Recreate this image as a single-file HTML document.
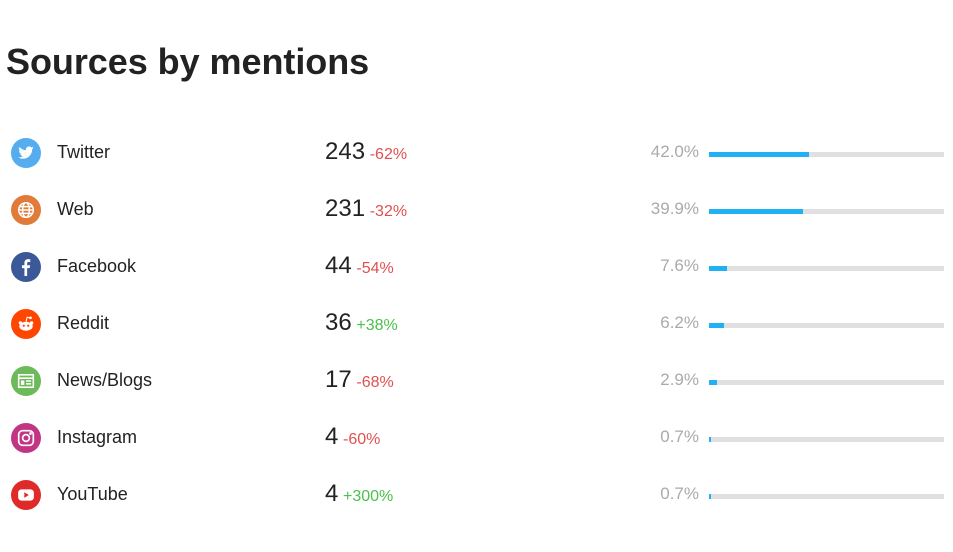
<!DOCTYPE html>
<html><head><meta charset="utf-8"><style>
body{margin:0;width:953px;height:552px;background:#fff;font-family:"Liberation Sans",sans-serif;position:relative;overflow:hidden}
h1{position:absolute;left:6px;top:40px;margin:0;font-size:36px;font-weight:bold;color:#222;line-height:44px;letter-spacing:-0.05px}
.row{position:absolute;left:0;width:953px;height:34px}
.ic{position:absolute;left:11px;top:2px;width:30px;height:30px;border-radius:50%}
.ic svg{position:absolute;left:6px;top:6px;width:18px;height:18px}
.nm{position:absolute;left:57px;top:6px;font-size:18px;color:#222}
.ct{position:absolute;left:325px;top:2px;font-size:24px;color:#222;white-space:nowrap}
.ct span{font-size:16px;margin-left:-2px}
.neg{color:#e05050}.pos{color:#4cc04c}
.pc{position:absolute;right:254px;top:6px;font-size:17px;color:#aaa}
.bar{position:absolute;left:709px;top:16px;width:235px;height:5px;background:#e0e0e0}
.bar i{display:block;height:5px;background:#22b0f5}
</style></head><body>
<h1>Sources by mentions</h1>

<div class="row" style="top:136px"><div class="ic" style="background:#55acee"><svg viewBox="0 0 16 16"><path d="M15 3.5c-.5.2-1 .4-1.6.4.6-.3 1-.9 1.2-1.5-.5.3-1.1.5-1.8.7a2.8 2.8 0 0 0-4.8 2.5C5.700 5.500 3.600 4.400 2.200 2.700c-.8 1.300-.3 3 .9 3.700-.4 0-.9-.1-1.300-.3 0 1.400 1 2.500 2.300 2.800-.4.100-.9.100-1.300 0 .4 1.100 1.400 1.900 2.600 1.900A5.600 5.600 0 0 1 1 11.900c1.300.8 2.700 1.200 4.300 1.200 5.300 0 8.200-4.400 8.200-8.200v-.4c.6-.4 1.100-.9 1.500-1z" fill="#fff"/></svg></div><div class="nm">Twitter</div><div class="ct">243 <span class="neg">-62%</span></div><div class="pc">42.0%</div><div class="bar"><i style="width:100px"></i></div></div>

<div class="row" style="top:193px"><div class="ic" style="background:#e07b39"><svg viewBox="0 0 16 16" fill="none" stroke="#fff" stroke-width="1.300"><circle cx="8" cy="8" r="6.500"/><ellipse cx="8" cy="8" rx="3" ry="6.500"/><path d="M1.500 8h13M2.500 5h11M2.500 11h11"/></svg></div><div class="nm">Web</div><div class="ct">231 <span class="neg">-32%</span></div><div class="pc">39.9%</div><div class="bar"><i style="width:94px"></i></div></div>

<div class="row" style="top:250px"><div class="ic" style="background:#3b5998"><svg viewBox="0 0 16 16"><path d="M9 16V9h2.300l.4-2.600H9V4.800c0-.8.3-1.300 1.400-1.300h1.400V1.200C11.500 1.100 10.700 1 9.900 1 8 1 6.600 2.200 6.600 4.300v2.100H4.400V9h2.200v7z" fill="#fff"/></svg></div><div class="nm">Facebook</div><div class="ct">44 <span class="neg">-54%</span></div><div class="pc">7.6%</div><div class="bar"><i style="width:18px"></i></div></div>

<div class="row" style="top:307px"><div class="ic" style="background:#ff4500"><svg viewBox="0 0 16 16"><ellipse cx="8" cy="10" rx="6" ry="4" fill="#fff"/><circle cx="13" cy="7" r="1.500" fill="#fff"/><circle cx="3" cy="7" r="1.500" fill="#fff"/><circle cx="12" cy="2.500" r="1.200" fill="#fff"/><path d="M8 6l1-4 3 .5" stroke="#fff" fill="none"/><circle cx="6" cy="9.500" r="1" fill="#ff4500"/><circle cx="10" cy="9.500" r="1" fill="#ff4500"/></svg></div><div class="nm">Reddit</div><div class="ct">36 <span class="pos">+38%</span></div><div class="pc">6.2%</div><div class="bar"><i style="width:15px"></i></div></div>

<div class="row" style="top:364px"><div class="ic" style="background:#6dba5a"><svg viewBox="0 0 16 16" fill="none" stroke="#fff" stroke-width="1.400"><rect x="1.500" y="2.500" width="13" height="11"/><path d="M1.500 5.500h13M8 8h4.500M8 10.500h4.500"/><rect x="3.500" y="7.500" width="3" height="4" fill="#fff" stroke="none"/></svg></div><div class="nm">News/Blogs</div><div class="ct">17 <span class="neg">-68%</span></div><div class="pc">2.9%</div><div class="bar"><i style="width:8px"></i></div></div>

<div class="row" style="top:421px"><div class="ic" style="background:#c13584"><svg viewBox="0 0 16 16" fill="none" stroke="#fff" stroke-width="1.500"><rect x="1.500" y="1.500" width="13" height="13" rx="3.500"/><circle cx="8" cy="8" r="3"/><circle cx="12" cy="4" r=".5" fill="#fff"/></svg></div><div class="nm">Instagram</div><div class="ct">4 <span class="neg">-60%</span></div><div class="pc">0.7%</div><div class="bar"><i style="width:2px"></i></div></div>

<div class="row" style="top:478px"><div class="ic" style="background:#e02a2a"><svg viewBox="0 0 16 16"><rect x="1" y="3" width="14" height="10" rx="3" fill="#fff"/><path d="M6.500 5.500v5l4-2.500z" fill="#e02a2a"/></svg></div><div class="nm">YouTube</div><div class="ct">4 <span class="pos">+300%</span></div><div class="pc">0.7%</div><div class="bar"><i style="width:2px"></i></div></div>
</body></html>
